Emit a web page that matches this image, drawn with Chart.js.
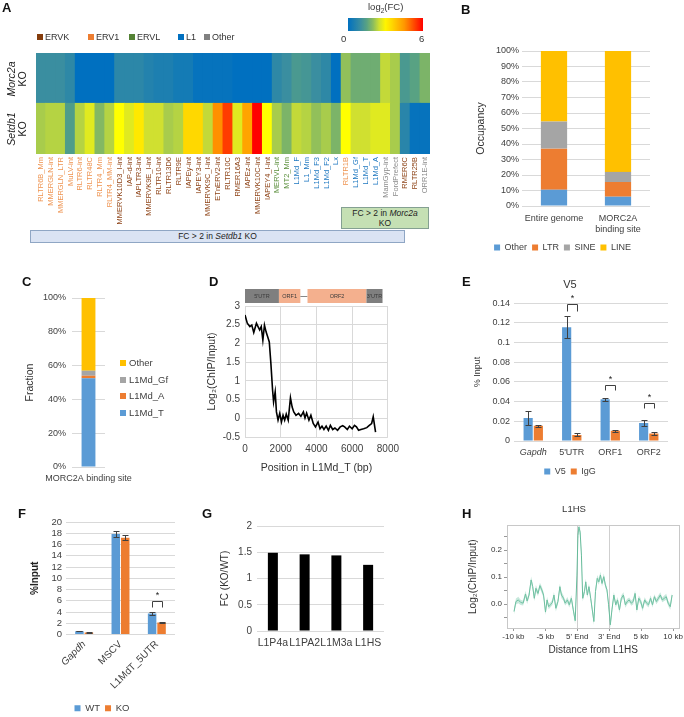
<!DOCTYPE html>
<html><head><meta charset="utf-8">
<script src="https://cdn.jsdelivr.net/npm/chart.js@4.4.1/dist/chart.umd.min.js"></script>
<style>
html,body{margin:0;padding:0;background:#fff;width:684px;height:717px;overflow:hidden;font-family:'Liberation Sans',Arial,Helvetica,sans-serif;}
canvas{position:absolute;}
.t{position:absolute;white-space:nowrap;color:#333;z-index:3;}
.pl{position:absolute;font-weight:bold;font-size:13px;line-height:13px;color:#111;z-index:3;}
.sq{position:absolute;width:6px;height:6px;z-index:3;}
.box{position:absolute;z-index:3;box-sizing:border-box;text-align:center;color:#222;font-size:8.5px;}
</style></head><body>
<script>
// ---------------- DATA ----------------
// Panel A heatmap
const teLabels = ["RLTR6B_Mm","MMERGLN-int","MMERGLN_LTR","MuLV-int","RLTR6-int","RLTR48C","RLTR4_Mm","RLTR4_MM-int","MMERVK10D3_I-int","IAP-d-int","IAPLTR3-int","MMERVK9E_I-int","RLTR10-int","RLTR13D6","RLTR9E","IAPEy-int","IAPEY3-int","MMERVK9C_I-int","ETnERV2-int","RLTR10C","RMER16A3","IAPEz-int","MMERVK10C-int","IAPEY4_I-int","MERVL-int","MT2_Mm","L1Md_F","L1_Mm","L1Md_F3","L1Md_F2","Lx","RLTR1B","L1Md_Gf","L1Md_T","L1Md_A","MamGyp-int","FordPrefect","RMER6C","RLTR25B","ORR1E-int"];
const teFamily = ["ERV1","ERV1","ERV1","ERV1","ERV1","ERV1","ERV1","ERV1","ERVK","ERVK","ERVK","ERVK","ERVK","ERVK","ERVK","ERVK","ERVK","ERVK","ERVK","ERVK","ERVK","ERVK","ERVK","ERVK","ERVL","ERVL","L1","L1","L1","L1","L1","ERV1","L1","L1","L1","Other","Other","ERVK","ERVK","Other"];
const morc2aLog2FC = [1.0,1.0,1.0,0.8, 0,0,0,0, 0.75,0.75,0.75,0.6, 0.5,0.5,0.35,0.35, 0.1,0.1,0.1,0.1, 0,0,0,0, 0.8,1.0,1.3,1.2, 1.0,0.8,0,2.05, 1.75,1.75,1.75,2.4, 2.2,1.3,1.5,1.9];
const setdb1Log2FC = [2.2,2.3,2.3,1.4, 2.3,2.6,1.95,2.3, 2.8,2.6,3.2,2.5, 2.5,2.2,2.3,3.5, 3.5,2.4,4.6,5.4, 2.6,4.3,6.0,2.8, 2.2,1.9,2.4,2.3, 2.05,2.2,1.9,2.8, 2.5,2.5,2.6,2.6, 2.2,0.7,0.1,0.1];
const familyNames = ["ERVK","ERV1","ERVL","L1","Other"];

// Panel B
const bCats = [["Entire genome"],["MORC2A","binding site"]];
const bOther = [10.5, 6];
const bLTR = [26.5, 9.5];
const bSINE = [17.5, 6.5];
const bLINE = [45.5, 78];

// Panel C
const cCats = ["MORC2A binding site"];
const cL1MdT = [52.5];
const cL1MdA = [1.5];
const cL1MdGf = [3];
const cOther = [43];

// Panel D
const dPos = [0,127,273,380,490,640,730,820,910,1000,1090,1180,1270,1360,1450,1545,1600,1690,1760,1850,1945,2040,2130,2220,2310,2420,2545,2640,2730,2855,3000,3130,3270,3360,3450,3580,3690,3820,3945,4090,4200,4310,4420,4545,4670,4780,4910,5035,5180,5330,5470,5580,5730,5850,6000,6130,6240,6360,6490,6640,6820,6960,7090,7180,7310];
const dLog2 = [2.76,2.54,2.45,2.49,2.29,2.54,2.45,2.36,2.45,2.09,2.49,2.31,2.18,2.04,1.46,0.75,0.44,0.71,0.17,-0.05,0.13,-0.10,0.08,-0.05,0.11,-0.05,0.55,0.30,0.17,0.08,0.13,0.05,0.17,0.01,0.14,-0.05,0.08,-0.14,-0.23,-0.10,-0.28,-0.21,-0.30,-0.21,-0.32,-0.19,-0.30,-0.26,-0.32,-0.23,-0.20,-0.23,-0.30,-0.21,-0.28,-0.19,-0.23,-0.32,-0.30,-0.28,-0.25,-0.19,-0.14,0.04,-0.37];
const geneNames = ["5'UTR","ORF1","","ORF2","3'UTR"];
const geneStart = [0,1900,3100,3500,6800];
const geneEnd = [1900,3100,3500,6800,7700];
const geneKind = ["utr","orf","link","orf","utr"];

// Panel E
const eCats = ["Gapdh","5'UTR","ORF1","ORF2"];
const eV5 = [0.0234,0.1155,0.0425,0.0183];
const eV5Err = [0.0072,0.011,0.0015,0.0034];
const eIgG = [0.0156,0.0062,0.0105,0.0075];
const eIgGErr = [0.001,0.0015,0.001,0.0015];
const eSigTop = [null,0.139,0.0574,0.039];
const eSigLeg = [null,0.1325,0.0516,0.034];

// Panel F
const fCats = ["Gapdh","MSCV","L1MdT_5UTR"];
const fWT = [0.6,17.87,3.73];
const fWTErr = [0.05,0.53,0.2];
const fKO = [0.35,17.2,2.13];
const fKOErr = [0.05,0.45,0.1];
const fSigTop = [null,null,5.9];
const fSigLeg = [null,null,4.9];

// Panel G
const gCats = ["L1P4a","L1PA2","L1M3a","L1HS"];
const gFC = [1.49,1.46,1.44,1.26];

// Panel H
const hTickPos = [0,20,40,60,80,100];
const hTickLabels = ["-10 kb","-5 kb","5' End","3' End","5 kb","10 kb"];
const hBin = [0.4,1.6,3.1,4.5,6.1,7.6,8.6,9.8,11.1,12.1,13.1,14.1,15.4,16.6,17.8,18.9,20.1,21.1,22.1,23.2,24.4,25.4,26.6,27.9,29.1,30.1,31.4,32.4,33.8,35.0,36.3,37.5,38.7,39.8,40.4,41.0,41.8,42.6,43.4,44.5,45.3,46.3,47.3,48.4,49.4,50.4,51.4,52.5,53.5,54.5,55.5,56.6,57.6,58.6,59.6,60.7,61.7,62.9,64.1,65.2,66.4,67.6,68.9,70.1,71.3,72.5,73.8,75.0,76.2,77.3,78.5,79.7,80.9,82.2,83.4,84.6,85.9,87.1,88.3,89.5,90.8,92.0,93.2,94.5,95.7,96.9,98.2,99.4];
const hMean = [-0.027,0.010,0.016,0.007,0.004,0.038,0.012,0.034,0.090,0.065,0.022,0.059,0.040,0.069,0.053,0.034,-0.029,0.016,-0.009,-0.002,0.007,0.034,-0.015,0.010,0.065,0.034,0.022,0.004,0.016,-0.002,0.022,-0.021,-0.061,0.108,0.255,0.286,0.267,0.182,0.022,0.047,0.083,0.034,0.065,0.022,-0.021,-0.064,0.047,0.096,0.083,0.108,0.077,0.102,0.071,0.053,-0.002,-0.076,-0.021,0.034,-0.002,0.016,-0.021,0.022,0.034,-0.002,0.010,0.016,0.004,0.010,0.040,-0.021,0.022,0.010,-0.015,0.016,0.004,-0.002,0.022,-0.002,0.028,0.010,0.022,0.034,0.016,0.022,0.028,0.004,-0.009,0.034];
const hSem = [0.010,0.011,0.012,0.010,0.009,0.012,0.011,0.010,0.013,0.012,0.011,0.012,0.010,0.011,0.012,0.010,0.011,0.012,0.010,0.009,0.010,0.011,0.012,0.010,0.011,0.012,0.010,0.009,0.011,0.010,0.012,0.011,0.013,0.015,0.016,0.015,0.016,0.014,0.012,0.011,0.012,0.011,0.012,0.011,0.012,0.013,0.011,0.012,0.011,0.012,0.011,0.012,0.011,0.010,0.011,0.013,0.012,0.011,0.010,0.011,0.012,0.011,0.010,0.011,0.010,0.009,0.010,0.011,0.012,0.011,0.010,0.011,0.012,0.010,0.009,0.010,0.011,0.010,0.009,0.010,0.011,0.010,0.009,0.010,0.011,0.010,0.011,0.010];

// ---------------- STYLE ----------------
const FONT = "'Liberation Sans', Arial, Helvetica, sans-serif";
Chart.defaults.font.family = FONT;
Chart.defaults.color = '#404040';
Chart.defaults.animation = false;
Chart.defaults.responsive = false;
Chart.defaults.devicePixelRatio = 1;
Chart.defaults.plugins.tooltip.enabled = false;
Chart.defaults.plugins.legend.display = false;

const famColor = {ERVK:'#843c0c', ERV1:'#ed7d31', ERVL:'#548235', L1:'#0070c0', Other:'#808080'};
const famLabelColor = {ERVK:'#8e4418', ERV1:'#ee9350', ERVL:'#5b8f3c', L1:'#1f78c0', Other:'#8a8a8a'};
const heatStops = [[0,[0,112,192]],[1.0,[58,142,160]],[1.4,[79,157,138]],[1.9,[124,180,104]],[2.2,[168,204,76]],[2.5,[208,224,48]],[2.8,[255,255,0]],[3.5,[255,216,0]],[4.6,[255,144,0]],[5.4,[255,60,0]],[6,[255,0,0]]];
function heatColor(v){
  for(let i=1;i<heatStops.length;i++){
    if(v<=heatStops[i][0]){
      const [a,ca]=heatStops[i-1],[b,cb]=heatStops[i]; const t=(v-a)/(b-a);
      return 'rgb('+ca.map((c,k)=>Math.round(c+(cb[k]-c)*t)).join(',')+')';
    }
  }
  return 'rgb(255,0,0)';
}
const C_BLUE='#5b9bd5', C_ORANGE='#ed7d31', C_GRAY='#a5a5a5', C_GOLD='#ffc000', GRID='#d9d9d9';
const num = (v)=>String(Math.round(v*1000)/1000);

function mk(left,top,w,h){
  const c=document.createElement('canvas'); c.width=w; c.height=h;
  c.style.left=left+'px'; c.style.top=top+'px'; c.style.width=w+'px'; c.style.height=h+'px';
  document.body.appendChild(c); return c.getContext('2d');
}
function txt(html,left,top,css){
  const d=document.createElement('div'); d.className='t'; d.innerHTML=html;
  d.style.left=left+'px'; d.style.top=top+'px'; if(css) d.style.cssText+=css;
  document.body.appendChild(d); return d;
}
function letter(ch,left,top){ const d=document.createElement('div'); d.className='pl'; d.textContent=ch; d.style.left=left+'px'; d.style.top=top+'px'; document.body.appendChild(d); }

const errorBars = {
  id:'errorBars',
  afterDatasetsDraw(chart){
    const ctx=chart.ctx, y=chart.scales.y;
    chart.data.datasets.forEach((ds,di)=>{
      if(!ds.errors) return;
      chart.getDatasetMeta(di).data.forEach((bar,i)=>{
        const v=ds.data[i], e=ds.errors[i];
        const yt=Math.round(y.getPixelForValue(v+e))+0.5, yb=Math.round(y.getPixelForValue(v-e))+0.5, x=Math.round(bar.x)+0.5;
        ctx.save(); ctx.strokeStyle='#404040'; ctx.lineWidth=1; ctx.beginPath();
        ctx.moveTo(x,yt); ctx.lineTo(x,yb); ctx.moveTo(x-3,yt); ctx.lineTo(x+3,yt); ctx.moveTo(x-3,yb); ctx.lineTo(x+3,yb);
        ctx.stroke(); ctx.restore();
      });
    });
  }
};
function sigPlugin(tops,legs){
  return {id:'sig', afterDatasetsDraw(chart){
    const ctx=chart.ctx, y=chart.scales.y, m0=chart.getDatasetMeta(0), m1=chart.getDatasetMeta(1);
    tops.forEach((t,i)=>{
      if(t==null) return;
      const x0=Math.round(m0.data[i].x)+0.5, x1=Math.round(m1.data[i].x)+0.5;
      const yt=Math.round(y.getPixelForValue(t))+0.5, yl=Math.round(y.getPixelForValue(legs[i]))+0.5;
      ctx.save(); ctx.strokeStyle='#404040'; ctx.lineWidth=1; ctx.beginPath();
      ctx.moveTo(x0,yl); ctx.lineTo(x0,yt); ctx.lineTo(x1,yt); ctx.lineTo(x1,yl); ctx.stroke();
      ctx.fillStyle='#222'; ctx.font='9px '+FONT; ctx.textAlign='center'; ctx.textBaseline='bottom';
      ctx.fillText('*',(x0+x1)/2,yt-1); ctx.restore();
    });
  }};
}

// ---------------- PANEL A ----------------
new Chart(mk(0,0,440,245),{
  type:'bar',
  data:{labels:teLabels, datasets:[
    {label:'Setdb1 KO', data:setdb1Log2FC.map(()=>1), backgroundColor:setdb1Log2FC.map(heatColor)},
    {label:'Morc2a KO', data:morc2aLog2FC.map(()=>1), backgroundColor:morc2aLog2FC.map(heatColor)}
  ]},
  options:{
    layout:{padding:{left:36,right:10,top:53,bottom:0}},
    datasets:{bar:{categoryPercentage:1,barPercentage:1,borderWidth:0,inflateAmount:0.6}},
    scales:{
      x:{stacked:true, grid:{display:false,drawTicks:false}, border:{display:false},
         ticks:{autoSkip:false,minRotation:90,maxRotation:90,padding:3,font:{size:7.5},color:(c)=>famLabelColor[teFamily[c.index]]},
         afterFit:(s)=>{s.height=91;}},
      y:{stacked:true,display:false,min:0,max:2}
    }
  }
});
letter('A',2,1);
txt('<i>Morc2a</i><br>KO',17,79,'font-size:10.5px;line-height:11px;text-align:center;transform:translate(-50%,-50%) rotate(-90deg);color:#222;');
txt('<i>Setdb1</i><br>KO',17,129,'font-size:10.5px;line-height:11px;text-align:center;transform:translate(-50%,-50%) rotate(-90deg);color:#222;');
(function(){
  const sqX=[37,88,129,178,204];
  familyNames.forEach((f,i)=>{
    const s=document.createElement('div'); s.className='sq'; s.style.left=sqX[i]+'px'; s.style.top='34px'; s.style.background=famColor[f]; document.body.appendChild(s);
    txt(f,sqX[i]+8,31,'font-size:9px;line-height:12px;color:#333;');
  });
  const bands=[]; for(let k=0;k<=12;k++){bands.push(heatColor(k*0.5));}
  const cb=document.createElement('div'); cb.style.cssText='position:absolute;left:348px;top:18px;width:75px;height:13px;z-index:3;background:linear-gradient(to right,'+bands.join(',')+');';
  document.body.appendChild(cb);
  txt('log<sub style="font-size:6.5px">2</sub>(FC)',368,1,'font-size:9.5px;line-height:12px;');
  txt('0',341,33,'font-size:9.5px;line-height:12px;');
  txt('6',419,33,'font-size:9.5px;line-height:12px;');
  const b1=document.createElement('div'); b1.className='box';
  b1.style.cssText+='left:30px;top:230px;width:375px;height:13px;background:#dae3f3;border:1px solid #8fa6c4;line-height:11px;';
  b1.innerHTML='FC &gt; 2 in <i>Setdb1</i> KO'; document.body.appendChild(b1);
  const b2=document.createElement('div'); b2.className='box';
  b2.style.cssText+='left:341px;top:207px;width:88px;height:22px;background:#c5e0b4;border:1px solid #84a092;line-height:10px;padding-top:0px;';
  b2.innerHTML='FC &gt; 2 in <i>Morc2a</i><br>KO'; document.body.appendChild(b2);
})();

// ---------------- PANEL B ----------------
new Chart(mk(465,40,219,222),{
  type:'bar',
  data:{labels:bCats, datasets:[
    {label:'Other',data:bOther,backgroundColor:C_BLUE},
    {label:'LTR',data:bLTR,backgroundColor:C_ORANGE},
    {label:'SINE',data:bSINE,backgroundColor:C_GRAY},
    {label:'LINE',data:bLINE,backgroundColor:C_GOLD}
  ]},
  options:{
    layout:{padding:{left:10,right:34,top:11,bottom:0}},
    datasets:{bar:{categoryPercentage:1,barPercentage:0.41}},
    plugins:{legend:{display:true,position:'bottom',labels:{boxWidth:6,boxHeight:6,padding:5,font:{size:9},color:'#404040'}}},
    scales:{
      x:{stacked:true,grid:{display:false,drawTicks:false},border:{display:false},ticks:{font:{size:9},padding:7,color:'#404040',maxRotation:0,minRotation:0,autoSkip:false},afterFit:(s)=>{s.height=32;}},
      y:{stacked:true,min:0,max:100,ticks:{stepSize:10,callback:(v)=>v+'%',font:{size:9},padding:3,color:'#404040'},grid:{color:GRID,drawTicks:false},border:{display:false},
         title:{display:true,text:'Occupancy',font:{size:10.5},padding:0,color:'#333'},afterFit:(s)=>{s.width=47;}}
    }
  }
});
letter('B',461,3);

// ---------------- PANEL C ----------------
const sideLegend = {
  id:'sideLegend',
  afterDraw(chart){
    const ctx=chart.ctx, a=chart.chartArea;
    chart.data.datasets.slice().reverse().forEach((d,i)=>{
      const y=Math.round(a.top+65+i*16.7);
      ctx.save(); ctx.fillStyle=d.backgroundColor; ctx.fillRect(Math.round(a.right)+15,y-3,6,6);
      ctx.fillStyle='#404040'; ctx.font='9.5px '+FONT; ctx.textBaseline='middle'; ctx.textAlign='left';
      ctx.fillText(d.label,Math.round(a.right)+24,y+0.5); ctx.restore();
    });
  }
};
new Chart(mk(0,262,190,232),{
  type:'bar',
  data:{labels:cCats, datasets:[
    {label:'L1Md_T',data:cL1MdT,backgroundColor:C_BLUE},
    {label:'L1Md_A',data:cL1MdA,backgroundColor:C_ORANGE},
    {label:'L1Md_Gf',data:cL1MdGf,backgroundColor:C_GRAY},
    {label:'Other',data:cOther,backgroundColor:C_GOLD}
  ]},
  options:{
    layout:{padding:{left:24,right:85,top:36,bottom:0}},
    datasets:{bar:{categoryPercentage:1,barPercentage:0.42}},
    scales:{
      x:{stacked:true,grid:{display:false,drawTicks:false},border:{display:false},ticks:{font:{size:9},padding:6,color:'#404040',maxRotation:0,minRotation:0,autoSkip:false},afterFit:(s)=>{s.height=27;}},
      y:{stacked:true,min:0,max:100,ticks:{stepSize:20,callback:(v)=>v+'%',font:{size:9},padding:6,color:'#404040'},grid:{color:GRID,drawTicks:false},border:{display:false},
         title:{display:true,text:'Fraction',font:{size:10.5},padding:0,color:'#333'},afterFit:(s)=>{s.width=48;}}
    }
  },
  plugins:[sideLegend]
});
letter('C',22,275);

// ---------------- PANEL D ----------------
const geneDiagram = {
  id:'gene',
  afterDraw(chart){
    const ctx=chart.ctx, x=chart.scales.x, top=Math.round(chart.chartArea.top)-17, h=14;
    ctx.save();
    geneNames.forEach((name,i)=>{
      const x0=x.getPixelForValue(geneStart[i]), x1=x.getPixelForValue(geneEnd[i]);
      if(geneKind[i]==='link'){
        ctx.strokeStyle='#888'; ctx.lineWidth=1; ctx.beginPath(); ctx.moveTo(x0,top+h/2+0.5); ctx.lineTo(x1,top+h/2+0.5); ctx.stroke();
      } else {
        ctx.fillStyle = geneKind[i]==='utr' ? '#7f7f7f' : '#f4b08e';
        ctx.fillRect(x0,top,x1-x0,h);
        ctx.fillStyle='#3a3a3a'; ctx.font='5.5px '+FONT; ctx.textAlign='center'; ctx.textBaseline='middle';
        ctx.fillText(name,(x0+x1)/2,top+h/2);
      }
    });
    ctx.restore();
  }
};
new Chart(mk(190,262,215,218),{
  type:'line',
  data:{datasets:[{data:dPos.map((p,i)=>({x:p,y:dLog2[i]})),borderColor:'#000',borderWidth:1.6,pointRadius:0,tension:0}]},
  options:{
    layout:{padding:{left:16,right:13,top:44,bottom:0}},
    scales:{
      x:{type:'linear',min:0,max:8000,ticks:{stepSize:2000,callback:(v)=>String(v),font:{size:10},padding:6,color:'#404040'},grid:{color:GRID,drawTicks:false},border:{display:false},
         title:{display:true,text:'Position in L1Md_T (bp)',font:{size:10.5},padding:{top:2,bottom:6},color:'#333'},afterFit:(s)=>{s.height=43;}},
      y:{min:-0.5,max:3,ticks:{stepSize:0.5,callback:num,font:{size:10},padding:5,color:'#404040'},grid:{color:GRID,drawTicks:false},border:{display:false},
         title:{display:true,text:'Log\u2082(ChIP/Input)',font:{size:10.5},padding:0,color:'#333'},afterFit:(s)=>{s.width=39;}}
    }
  },
  plugins:[geneDiagram]
});
letter('D',209,275);

// ---------------- PANEL E ----------------
new Chart(mk(470,262,214,224),{
  type:'bar',
  data:{labels:eCats, datasets:[
    {label:'V5',data:eV5,errors:eV5Err,backgroundColor:C_BLUE},
    {label:'IgG',data:eIgG,errors:eIgGErr,backgroundColor:C_ORANGE}
  ]},
  options:{
    layout:{padding:{left:2,right:16,top:0,bottom:0}},
    datasets:{bar:{categoryPercentage:0.53,barPercentage:0.9}},
    plugins:{
      title:{display:true,text:'V5',font:{size:11,weight:'normal'},color:'#333',padding:{top:16,bottom:12}},
      legend:{display:true,position:'bottom',labels:{boxWidth:6,boxHeight:6,padding:5,font:{size:9},color:'#404040'}}
    },
    scales:{
      x:{grid:{display:false,drawTicks:false},border:{display:false},ticks:{font:(c)=>({size:9,style:c.index===0?'italic':'normal'}),padding:6,color:'#404040',maxRotation:0,autoSkip:false},afterFit:(s)=>{s.height=21;}},
      y:{min:0,max:0.14,ticks:{stepSize:0.02,callback:num,font:{size:9},padding:4,color:'#404040'},grid:{color:GRID,drawTicks:false},border:{display:false},
         title:{display:true,text:'% Input',font:{size:9},padding:0,color:'#333'},afterFit:(s)=>{s.width=42;}}
    }
  },
  plugins:[errorBars,sigPlugin(eSigTop,eSigLeg)]
});
letter('E',462,275);

// ---------------- PANEL F ----------------
new Chart(mk(0,495,205,228),{
  type:'bar',
  data:{labels:fCats, datasets:[
    {label:'WT',data:fWT,errors:fWTErr,backgroundColor:C_BLUE},
    {label:'KO',data:fKO,errors:fKOErr,backgroundColor:C_ORANGE}
  ]},
  options:{
    layout:{padding:{left:29,right:30,top:27,bottom:0}},
    datasets:{bar:{categoryPercentage:0.52,barPercentage:0.9}},
    plugins:{legend:{display:true,position:'bottom',labels:{boxWidth:6,boxHeight:6,padding:5,font:{size:9.5},color:'#404040'}}},
    scales:{
      x:{grid:{display:false,drawTicks:false},border:{display:false},ticks:{minRotation:45,maxRotation:45,autoSkip:false,font:(c)=>({size:10,style:c.index===0?'italic':'normal'}),padding:4,color:'#404040'},afterFit:(s)=>{s.height=64;}},
      y:{min:0,max:20,ticks:{stepSize:2,autoSkip:false,font:{size:9.5},padding:4,color:'#404040'},grid:{color:GRID,drawTicks:false},border:{display:false},
         title:{display:true,text:'%Input',font:{size:10,weight:'bold'},padding:0,color:'#222'},afterFit:(s)=>{s.width=37;}}
    }
  },
  plugins:[errorBars,sigPlugin(fSigTop,fSigLeg)]
});
letter('F',18,507);

// ---------------- PANEL G ----------------
new Chart(mk(205,495,200,166),{
  type:'bar',
  data:{labels:gCats, datasets:[{label:'FC',data:gFC,backgroundColor:'#000'}]},
  options:{
    layout:{padding:{left:14,right:21,top:31,bottom:0}},
    datasets:{bar:{categoryPercentage:1,barPercentage:0.315}},
    scales:{
      x:{grid:{display:false,drawTicks:false},border:{display:false},ticks:{font:{size:10.5},padding:6,color:'#404040',maxRotation:0,minRotation:0,autoSkip:false},afterFit:(s)=>{s.height=30;}},
      y:{min:0,max:2,ticks:{stepSize:0.5,callback:num,font:{size:10},padding:5,color:'#404040'},grid:{color:GRID,drawTicks:false},border:{display:false},
         title:{display:true,text:'FC (KO/WT)',font:{size:10},padding:0,color:'#333'},afterFit:(s)=>{s.width=38;}}
    }
  }
});
letter('G',202,507);

// ---------------- PANEL H ----------------
const frame = {id:'frame', afterDraw(chart){const a=chart.chartArea,ctx=chart.ctx; ctx.save(); ctx.strokeStyle='#c8c8c8'; ctx.lineWidth=1; ctx.strokeRect(Math.round(a.left)+0.5,Math.round(a.top)+0.5,Math.round(a.right-a.left),Math.round(a.bottom-a.top)); ctx.restore();}};
new Chart(mk(440,497,244,165),{
  type:'line',
  data:{datasets:[
    {data:hBin.map((b,i)=>({x:b,y:hMean[i]+hSem[i]})),borderWidth:0,pointRadius:0,fill:false,borderColor:'rgba(0,0,0,0)'},
    {data:hBin.map((b,i)=>({x:b,y:hMean[i]-hSem[i]})),borderWidth:0,pointRadius:0,fill:'-1',backgroundColor:'rgba(130,205,178,0.45)',borderColor:'rgba(0,0,0,0)'},
    {data:hBin.map((b,i)=>({x:b,y:hMean[i]})),borderColor:'#62b997',borderWidth:1,pointRadius:0,fill:false}
  ]},
  options:{
    layout:{padding:{left:27,right:3,top:0,bottom:0}},
    plugins:{title:{display:true,text:'L1HS',font:{size:9.5,weight:'normal'},color:'#333',padding:{top:7,bottom:10}}},
    scales:{
      x:{type:'linear',min:-4,max:104,
         afterBuildTicks:(s)=>{s.ticks=hTickPos.map(v=>({value:v}));},
         ticks:{callback:(v)=>hTickLabels[hTickPos.indexOf(v)],font:{size:8},padding:1,color:'#333',autoSkip:false,maxRotation:0},
         grid:{color:(c)=>(c.tick&&(c.tick.value===40||c.tick.value===60))?'#cfcfcf':'rgba(0,0,0,0)',tickColor:'#999',tickLength:3},
         border:{display:false},
         title:{display:true,text:'Distance from L1HS',font:{size:10},padding:{top:1,bottom:6},color:'#333'},afterFit:(s)=>{s.height=34;}},
      y:{min:-0.088,max:0.292,
         afterBuildTicks:(s)=>{s.ticks=[-0.05,0,0.05,0.1,0.15,0.2,0.25].map(v=>({value:v}));},
         ticks:{callback:(v)=>(Math.abs(v*10-Math.round(v*10))<1e-6)?v.toFixed(1):'',font:{size:8},padding:2,color:'#333'},
         grid:{drawOnChartArea:false,tickColor:'#999',tickLength:3},border:{display:false},
         title:{display:true,text:'Log\u2082(ChIP/Input)',font:{size:10},padding:0,color:'#333'},afterFit:(s)=>{s.width=40;}}
    }
  },
  plugins:[frame]
});
letter('H',462,507);
</script>
</body></html>
